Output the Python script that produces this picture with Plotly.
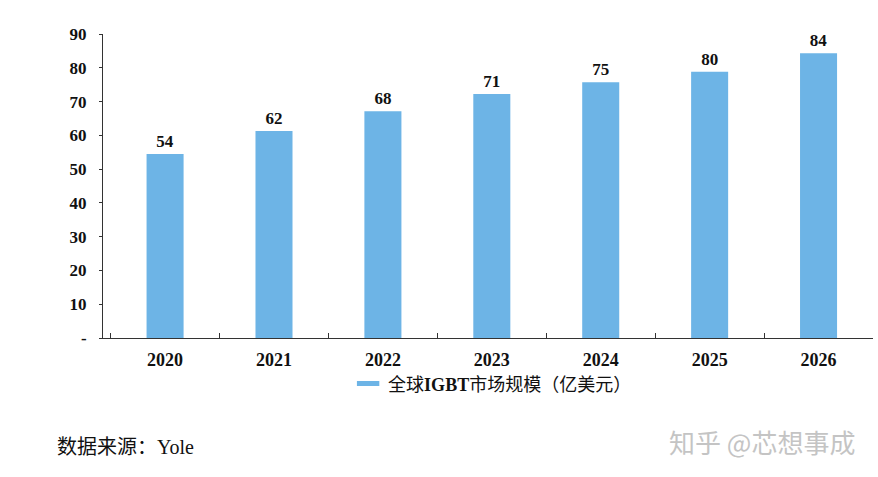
import plotly.graph_objects as go

years = ["2020", "2021", "2022", "2023", "2024", "2025", "2026"]
values = [54.5, 61.3, 67.1, 72.2, 75.7, 78.8, 84.3]
labels = ["54", "62", "68", "71", "75", "80", "84"]
y_ticks = [0, 10, 20, 30, 40, 50, 60, 70, 80, 90]
y_tick_text = ["-", "10", "20", "30", "40", "50", "60", "70", "80", "90"]
series_name = "全球<b>IGBT</b>市场规模（亿美元）"

serif = "Liberation Serif, Times New Roman, Noto Sans CJK SC, serif"
bar_color = "#6DB4E6"

fig = go.Figure()
fig.add_trace(go.Bar(
    x=years, y=values, name=series_name, showlegend=False,
    marker=dict(color=bar_color, line=dict(width=0)),
    width=0.34,
    text=labels, textposition="outside", cliponaxis=False,
    textfont=dict(family=serif, size=17, color="#111111"),
    texttemplate="<b>%{text}</b>",
))
# legend entry (flat swatch as in the reference)
fig.add_trace(go.Scatter(
    x=[None], y=[None], name=series_name, mode="markers", showlegend=True,
    marker=dict(symbol="line-ew", size=20, color=bar_color,
                line=dict(color=bar_color, width=5)),
))

fig.update_layout(
    width=878, height=477,
    margin=dict(l=103, r=5, t=34, b=139),
    paper_bgcolor="white", plot_bgcolor="white",
    showlegend=True,
    legend=dict(orientation="h", x=0.506, xanchor="center", y=-0.151, yanchor="middle",
                bgcolor="rgba(0,0,0,0)",
                font=dict(family=serif, size=18, color="#111111")),
    xaxis=dict(
        type="category", range=[-0.57, 6.5],
        showline=True, linecolor="#333333", linewidth=1,
        ticks="inside", tickson="boundaries", ticklen=5, tickcolor="#333333",
        tickfont=dict(family=serif, size=18, color="#111111"),
        tickprefix="<b>", ticksuffix="</b>", ticklabelstandoff=5,
        showgrid=False, zeroline=False,
    ),
    yaxis=dict(
        range=[0, 90], tickvals=y_ticks, ticktext=["<b>%s</b>" % t for t in y_tick_text],
        showline=True, linecolor="#333333", linewidth=1,
        ticks="outside", ticklen=3, tickcolor="#333333",
        tickfont=dict(family=serif, size=17, color="#111111"),
        showgrid=False, zeroline=False, ticklabelstandoff=9,
    ),
    annotations=[
        dict(text="数据来源：Yole", xref="paper", yref="paper", x=-0.062, y=-0.358,
             xanchor="left", yanchor="middle", showarrow=False,
             font=dict(family=serif, size=20, color="#111111")),
        dict(text="知乎 @芯想事成", xref="paper", yref="paper", x=0.9786, y=-0.339,
             xanchor="right", yanchor="middle", showarrow=False,
             font=dict(family="Noto Sans CJK SC", size=26, color="#C4C4C4")),
    ],
)

fig.write_html("out.html")
